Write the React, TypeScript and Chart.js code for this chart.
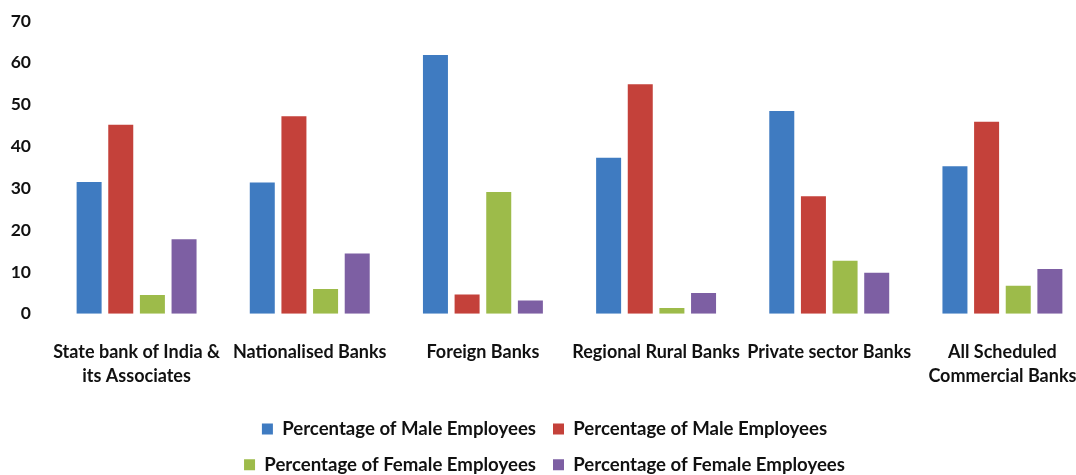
import React, { useEffect, useRef } from "react";
import { Chart, registerables } from "chart.js";

Chart.register(...registerables);

const categories: (string | string[])[] = [
  ["State bank of India &", "its Associates"],
  "Nationalised Banks",
  "Foreign Banks",
  "Regional Rural Banks",
  "Private sector Banks",
  ["All Scheduled", "Commercial Banks"],
];

const seriesLabels = [
  "Percentage of Male Employees",
  "Percentage of Male Employees",
  "Percentage of Female Employees",
  "Percentage of Female Employees",
];

const maleBlue = [31.5, 31.4, 61.9, 37.3, 48.5, 35.3];
const maleRed = [45.2, 47.2, 4.6, 54.9, 28.1, 45.9];
const femaleGreen = [4.5, 5.9, 29.1, 1.4, 12.7, 6.7];
const femalePurple = [17.8, 14.4, 3.2, 5.0, 9.8, 10.7];

const colors = ["#3F7BC1", "#C4413A", "#9DBB4A", "#7D5FA3"];

const yMin = 0;
const yMax = 70;
const yStep = 10;

const legendWrapPlugin = {
  id: "legendWrap",
  beforeLayout(chart: any) {
    const lg = chart.legend;
    if (lg && !lg.__wrapPatched) {
      const orig = lg.update.bind(lg);
      lg.update = (maxW: number, maxH: number, margins: any) =>
        orig(Math.min(maxW, 820), maxH, margins);
      lg.__wrapPatched = true;
    }
  },
};

export default function App() {
  const ref = useRef<HTMLCanvasElement | null>(null);

  useEffect(() => {
    if (!ref.current) return;
    const font = "Lato";
    const values = [maleBlue, maleRed, femaleGreen, femalePurple];
    const chart = new Chart(ref.current, {
      type: "bar",
      data: {
        labels: categories,
        datasets: values.map((v, i) => ({
          label: seriesLabels[i],
          data: v,
          backgroundColor: colors[i],
          borderWidth: 0,
          barPercentage: 0.79,
          categoryPercentage: 0.731,
        })),
      },
      plugins: [legendWrapPlugin],
      options: {
        animation: false,
        responsive: false,
        maintainAspectRatio: false,
        layout: { padding: { top: 21, right: 3, left: 0, bottom: 0 } },
        plugins: {
          tooltip: { enabled: false },
          legend: {
            position: "bottom",
            labels: {
              boxWidth: 11,
              boxHeight: 11,
              padding: 17,
              color: "#111",
              font: { family: font, size: 18.6, weight: "bold" },
            },
          },
        },
        scales: {
          x: {
            grid: { display: false, drawTicks: false },
            border: { display: false },
            ticks: {
              autoSkip: false,
              maxRotation: 0,
              minRotation: 0,
              padding: 26,
              color: "#111",
              font: { family: font, size: 18, weight: "bold", lineHeight: 1.33 },
            },
            afterFit: (s: any) => {
              s.height = 89;
              s.paddingLeft = 0;
              s.paddingRight = 0;
            },
          },
          y: {
            min: yMin,
            max: yMax,
            grid: { display: false, drawTicks: false },
            border: { display: false },
            ticks: {
              stepSize: yStep,
              padding: 19,
              color: "#111",
              font: { family: font, size: 17.5, weight: "bold" },
            },
            afterFit: (s: any) => {
              s.width = 50;
              s.paddingTop = 0;
              s.paddingBottom = 0;
            },
          },
        },
      },
    });
    return () => chart.destroy();
  }, []);

  return (
    <div
      style={{
        position: "absolute",
        left: 0,
        top: 0,
        width: 1076,
        height: 475,
        overflow: "hidden",
        background: "#fff",
      }}
    >
      <canvas
        ref={ref}
        width={1092}
        height={484}
        style={{ display: "block", width: 1092, height: 484 }}
      />
    </div>
  );
}
